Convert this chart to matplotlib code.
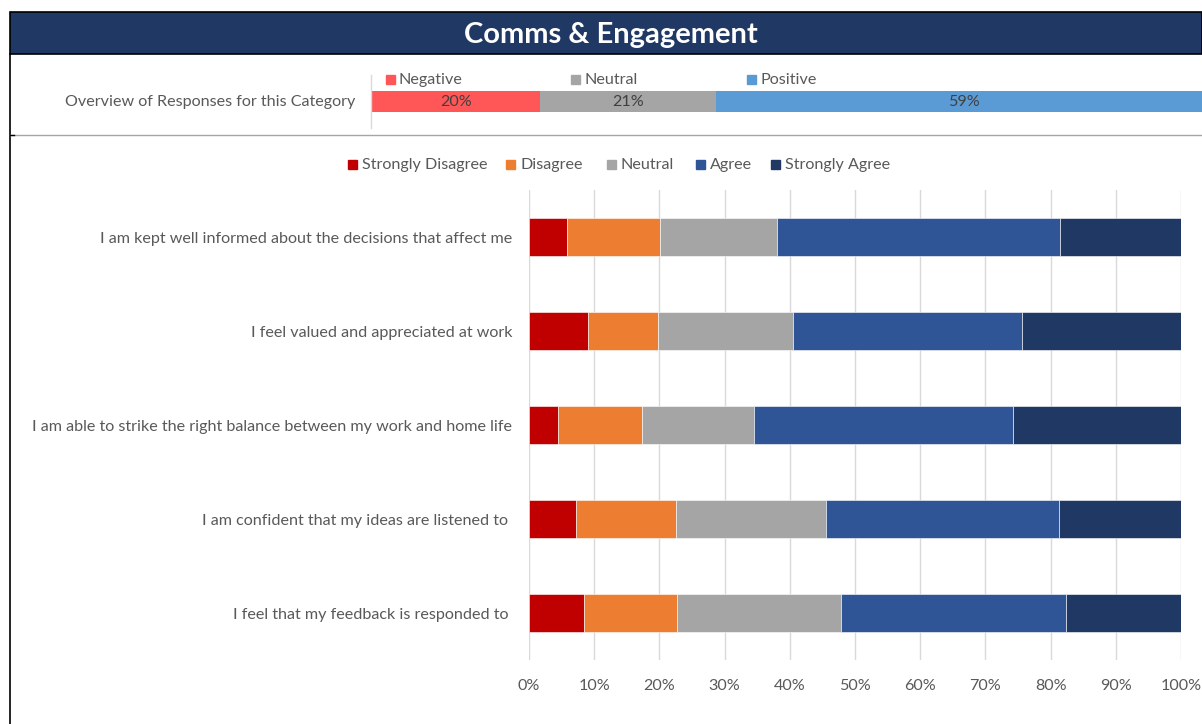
import numpy as np
import matplotlib.pyplot as plt
from matplotlib.patches import Rectangle
from matplotlib.lines import Line2D

plt.rcParams['font.family'] = ['Lato', 'DejaVu Sans']

# data
questions = ['I am kept well informed about the decisions that affect me',
             'I feel valued and appreciated at work',
             'I am able to strike the right balance between my work and home life',
             'I am confident that my ideas are listened to ',
             'I feel that my feedback is responded to ']
levels = ['Strongly Disagree', 'Disagree', 'Neutral', 'Agree', 'Strongly Agree']
strongly_disagree = [5.9, 9.1, 4.5, 7.2, 8.4]
disagree = [14.2, 10.7, 12.8, 15.4, 14.3]
neutral = [18.0, 20.7, 17.2, 22.9, 25.2]
agree = [43.4, 35.1, 39.7, 35.8, 34.5]
strongly_agree = [18.5, 24.4, 25.8, 18.7, 17.6]

overview_names = ['Negative', 'Neutral', 'Positive']
overview_vals = [20, 21, 59]

level_colors = ['#C00000', '#ED7D31', '#A5A5A5', '#2F5597', '#203864']
overview_colors = ['#FF5757', '#A5A5A5', '#5B9BD5']
txt = '#595959'
fs = 11.6

W, H = 1202, 724
fig = plt.figure(figsize=(W / 100, H / 100), dpi=100, facecolor='white')

def px_rect(x0, y0, x1, y1):
    return [x0 / W, 1 - y1 / H, (x1 - x0) / W, (y1 - y0) / H]

def fx(x):
    return x / W

def fy(y):
    return 1 - y / H

# title bar
fig.patches.append(Rectangle((fx(10), fy(54)), fx(1202) - fx(10), fy(12) - fy(54),
                             transform=fig.transFigure, facecolor='#203864',
                             edgecolor='black', lw=1.2))
fig.text(fx(611), fy(35), 'Comms & Engagement', color='white', fontsize=21,
         fontweight='bold', ha='center', va='center')

# frame lines
fig.add_artist(Line2D([fx(10), fx(10)], [fy(54), 0], color='black', lw=1.2))
fig.add_artist(Line2D([fx(10), fx(1202)], [fy(135), fy(135)], color='#A6A6A6', lw=1))
fig.add_artist(Line2D([fx(10), fx(14)], [fy(135), fy(135)], color='black', lw=1))
fig.add_artist(Line2D([fx(371), fx(371)], [fy(75), fy(128)], color='#D9D9D9', lw=1))

# overview
fig.text(fx(355), fy(102), 'Overview of Responses for this Category', color=txt,
         fontsize=fs, ha='right', va='center')
ax0 = fig.add_axes(px_rect(372, 91, 1211, 112))
left = 0
for name, v, c in zip(overview_names, overview_vals, overview_colors):
    ax0.barh(0, v, left=left, height=1, color=c)
    ax0.text(left + v / 2, 0, f'{v}%', ha='center', va='center', color='#404040',
             fontsize=fs)
    left += v
ax0.set_xlim(0, 100)
ax0.set_ylim(-0.5, 0.5)
ax0.axis('off')

for name, c, x in zip(overview_names, overview_colors, [386, 571, 747]):
    fig.patches.append(Rectangle((fx(x), fy(84)), fx(9), 9 / H,
                                 transform=fig.transFigure, color=c))
    fig.text(fx(x + 13), fy(80), name, color=txt, fontsize=fs, va='center')

# main legend
for name, c, x in zip(levels, level_colors, [348, 506, 607, 696, 771]):
    fig.patches.append(Rectangle((fx(x), fy(169)), fx(9), 9 / H,
                                 transform=fig.transFigure, color=c))
    fig.text(fx(x + 14), fy(165), name, color=txt, fontsize=fs, va='center')

# main chart
ax = fig.add_axes(px_rect(529, 190, 1181, 660))
series = [strongly_disagree, disagree, neutral, agree, strongly_agree]
y = np.arange(len(questions))
left = np.zeros(len(questions))
for vals, c in zip(series, level_colors):
    vals = np.array(vals)
    ax.barh(y, vals, left=left, height=0.4, color=c, edgecolor='white',
            linewidth=0.4, zorder=3)
    left += vals
ax.set_xlim(0, 100)
ax.set_ylim(len(questions) - 0.5, -0.5)
ax.set_xticks(np.arange(0, 101, 10))
ax.set_xticklabels([f'{t}%' for t in range(0, 101, 10)])
ax.set_yticks(y)
ax.set_yticklabels(questions)
ax.tick_params(axis='both', length=0, colors=txt, labelsize=fs)
ax.tick_params(axis='x', pad=14)
ax.tick_params(axis='y', pad=12)
ax.grid(axis='x', color='#D9D9D9', lw=1, zorder=0)
for s in ax.spines.values():
    s.set_visible(False)

fig.savefig('out.png', dpi=100, facecolor='white')
